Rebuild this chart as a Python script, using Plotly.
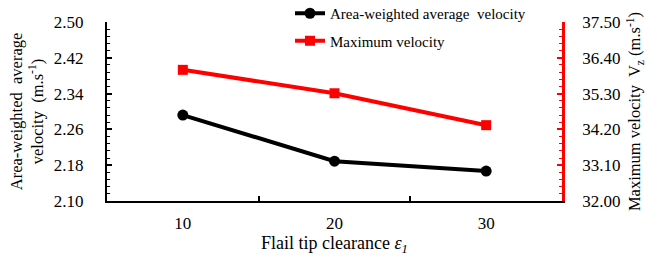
import plotly.graph_objects as go

clearance = ["10", "20", "30"]
avg_velocity = [2.292, 2.189, 2.167]
max_velocity = [36.03, 35.31, 34.33]

left_ticks = [2.10, 2.18, 2.26, 2.34, 2.42, 2.50]
right_ticks = [32.00, 33.10, 34.20, 35.30, 36.40, 37.50]

FONT = "Liberation Serif"

fig = go.Figure()
fig.add_trace(go.Scatter(
    x=clearance, y=avg_velocity, name="Area-weighted average  velocity",
    mode="lines+markers", legendgroup="a",
    line=dict(color="black", width=4),
    marker=dict(symbol="circle", size=11, color="black"),
    yaxis="y"))
fig.add_trace(go.Scatter(
    x=clearance, y=max_velocity, name="Maximum velocity",
    mode="lines+markers", legendgroup="b",
    line=dict(color="#ff0000", width=4),
    marker=dict(symbol="square", size=10, color="#ff0000"),
    yaxis="y2"))

fig.update_layout(
    width=647, height=260,
    margin=dict(l=107, r=85, t=22, b=59, autoexpand=False),
    paper_bgcolor="white", plot_bgcolor="white",
    font=dict(family=FONT, color="black", size=17),
    showlegend=True,
    legend=dict(
        x=(290 - 107) / 455, y=1 + 25 / 179, xanchor="left", yanchor="top",
        bgcolor="rgba(0,0,0,0)", font=dict(family=FONT, size=15),
        traceorder="grouped", tracegroupgap=5,
    ),
    xaxis=dict(
        type="category", range=[-0.5, 2.5], automargin=False,
        showline=True, linecolor="black", linewidth=2,
        ticks="inside", tickson="boundaries", ticklen=5, tickwidth=1.5, tickcolor="black",
        showgrid=False, zeroline=False,
        tickfont=dict(size=17), ticklabelstandoff=6,
        title=dict(text="Flail tip clearance <i>ε<sub>1</sub></i>", font=dict(size=18), standoff=4),
    ),
    yaxis=dict(
        range=[2.10, 2.50], tickvals=left_ticks, ticktext=[f"{v:.2f}" for v in left_ticks],
        automargin=False,
        showline=True, linecolor="black", linewidth=2,
        ticks="inside", ticklen=5, tickwidth=1.5, tickcolor="black",
        minor=dict(dtick=0.016, tick0=2.10, ticks="inside", ticklen=3, tickwidth=1.2, tickcolor="black"),
        showgrid=False, zeroline=False,
        tickfont=dict(size=17), ticklabelstandoff=18,
        title=dict(text="Area-weighted  average<br>velocity  (m.s<sup>-1</sup>)", font=dict(size=16.5), standoff=6),
    ),
    yaxis2=dict(
        overlaying="y", side="right", anchor="x", automargin=False,
        range=[32.0, 37.5], tickvals=right_ticks, ticktext=[f"{v:.2f}" for v in right_ticks],
        showline=True, linecolor="#ff0000", linewidth=2.5,
        ticks="inside", ticklen=5, tickwidth=1.5, tickcolor="#ff0000",
        minor=dict(dtick=0.22, tick0=32.0, ticks="inside", ticklen=3, tickwidth=1.2, tickcolor="#ff0000"),
        showgrid=False, zeroline=False,
        tickfont=dict(size=17), ticklabelstandoff=14,
        title=dict(text="Maximum velocity  V<sub>z</sub> (m.s<sup>-1</sup>)", font=dict(size=16.5), standoff=10),
    ),
)

fig.write_html("out.html", config={"displayModeBar": False},
               post_script="document.body.style.margin='0';")
